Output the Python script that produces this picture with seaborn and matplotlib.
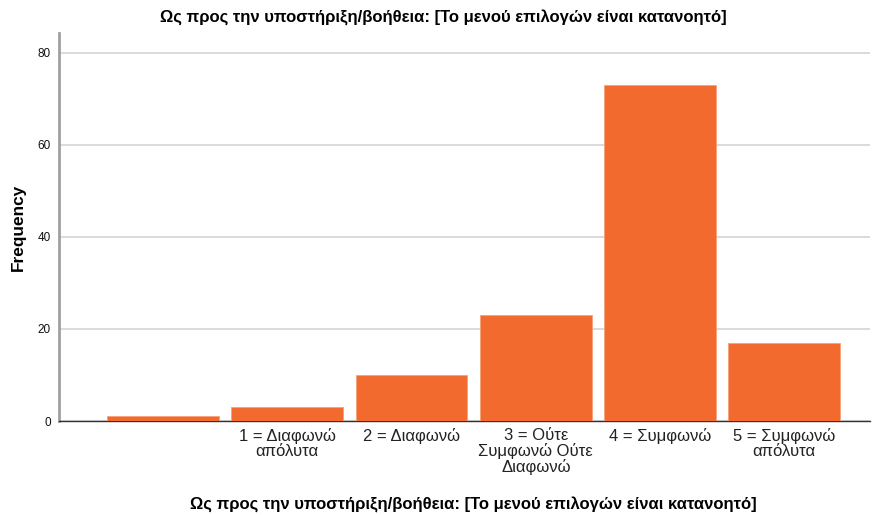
import matplotlib
matplotlib.use("Agg")
import matplotlib.pyplot as plt
import seaborn as sns
import pandas as pd

categories = ["", "1 = Διαφωνώ\nαπόλυτα", "2 = Διαφωνώ", "3 = Ούτε\nΣυμφωνώ Ούτε\nΔιαφωνώ",
              "4 = Συμφωνώ", "5 = Συμφωνώ\nαπόλυτα"]
frequencies = [1, 3, 10, 23, 73, 17]
title = "Ως προς την υποστήριξη/βοήθεια: [Το μενού επιλογών είναι κατανοητό]"

sns.set_theme(style="white")
plt.rcParams['font.family'] = ['Liberation Sans', 'DejaVu Sans']
plt.rcParams['text.color'] = 'black'

df = pd.DataFrame({"cat": categories, "freq": frequencies})

fig = plt.figure(figsize=(8.74, 5.15), dpi=100)
ax = fig.add_axes([59/874, 1-421/515, (870-59)/874, (421-33)/515])
sns.barplot(data=df, x="cat", y="freq", order=categories, color="#F26A2D",
            saturation=1, width=0.9, edgecolor="#F7A27A", linewidth=0.6, ax=ax, zorder=3)

ax.set_ylim(0, 84.3)
ax.set_xlim(-0.837, 5.69)
ax.set_yticks([0, 20, 40, 60, 80])
ax.yaxis.grid(True, color="#D4D4D4", linewidth=1.2, zorder=0)
ax.set_axisbelow(True)
for s in ["top", "right"]:
    ax.spines[s].set_visible(False)
ax.spines["left"].set_color("#A0A0A0")
ax.spines["left"].set_linewidth(2)
ax.spines["bottom"].set_color("#333333")
ax.spines["bottom"].set_linewidth(1)
ax.tick_params(axis="both", length=0)
ax.tick_params(axis="y", labelsize=8.5, pad=6, labelcolor="#111111")
ax.tick_params(axis="x", labelsize=12, pad=5, labelcolor="#222222")
for t in ax.get_xticklabels():
    t.set_linespacing(1.02)

ax.set_ylabel("")
ax.set_xlabel("")
fig.text(18/874, 1-227/515, "Frequency", rotation=90, ha="center", va="center",
         fontsize=12.4, fontweight="bold", color="black")
fig.text(473/874, 1-505/515, title, ha="center", va="center", fontsize=12,
         fontweight="bold", color="black")
fig.text(443/874, 1-18/515, title, ha="center", va="center", fontsize=12,
         fontweight="bold", color="black")

fig.savefig("out.png", dpi=100)
